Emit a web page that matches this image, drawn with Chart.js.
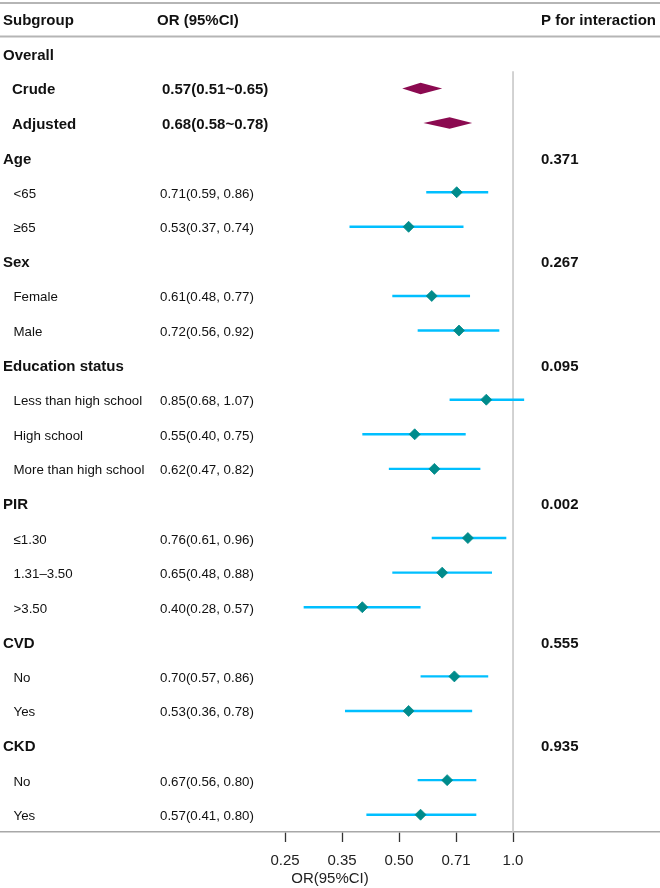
<!DOCTYPE html>
<html>
<head>
<meta charset="utf-8">
<script src="https://cdn.jsdelivr.net/npm/chart.js@4.4.1/dist/chart.umd.min.js"></script>
<style>
  html, body { margin: 0; padding: 0; background: #fff; }
  #wrap { width: 660px; height: 888px; }
</style>
</head>
<body>
<div id="wrap"><canvas id="c" width="660" height="888"></canvas></div>
<script>
// ---------- data ----------
const columnHeaders = ['Subgroup', 'OR (95%CI)', 'P for interaction'];
const rowLabels = ['Overall', 'Crude', 'Adjusted',
  'Age', '<65', '≥65',
  'Sex', 'Female', 'Male',
  'Education status', 'Less than high school', 'High school', 'More than high school',
  'PIR', '≤1.30', '1.31–3.50', '>3.50',
  'CVD', 'No', 'Yes',
  'CKD', 'No', 'Yes'];
const rowKinds = ['group', 'overall', 'overall',
  'group', 'sub', 'sub',
  'group', 'sub', 'sub',
  'group', 'sub', 'sub', 'sub',
  'group', 'sub', 'sub', 'sub',
  'group', 'sub', 'sub',
  'group', 'sub', 'sub'];
const orValues = [null, 0.57, 0.68,
  null, 0.71, 0.53,
  null, 0.61, 0.72,
  null, 0.85, 0.55, 0.62,
  null, 0.76, 0.65, 0.40,
  null, 0.70, 0.53,
  null, 0.67, 0.57];
const lowerCI = [null, 0.51, 0.58,
  null, 0.59, 0.37,
  null, 0.48, 0.56,
  null, 0.68, 0.40, 0.47,
  null, 0.61, 0.48, 0.28,
  null, 0.57, 0.36,
  null, 0.56, 0.41];
const upperCI = [null, 0.65, 0.78,
  null, 0.86, 0.74,
  null, 0.77, 0.92,
  null, 1.07, 0.75, 0.82,
  null, 0.96, 0.88, 0.57,
  null, 0.86, 0.78,
  null, 0.80, 0.80];
const pInteraction = [null, null, null,
  '0.371', null, null,
  '0.267', null, null,
  '0.095', null, null, null,
  '0.002', null, null, null,
  '0.555', null, null,
  '0.935', null, null];
const xTickValues = [0.25, 0.3536, 0.5, 0.7071, 1.0];
const xTickLabels = ['0.25', '0.35', '0.50', '0.71', '1.0'];
const xAxisTitle = 'OR(95%CI)';

// ---------- styles ----------
const FONT = "'Liberation Sans', Arial, Helvetica, sans-serif";
const COL_MARK = '#008B8B';
const COL_CI = '#00BFFF';
const COL_SUMMARY = '#8B0A50';
const TEXT = '#111';
const TEXT_DY = 1.8;

Chart.defaults.font.family = FONT;

const fmt = v => v.toFixed(2);
function ciText(i) {
  if (orValues[i] == null) return '';
  if (rowKinds[i] === 'overall') return fmt(orValues[i]) + '(' + fmt(lowerCI[i]) + '~' + fmt(upperCI[i]) + ')';
  return fmt(orValues[i]) + '(' + fmt(lowerCI[i]) + ', ' + fmt(upperCI[i]) + ')';
}

// datasets
const estimatePoints = [];
const ciDatasets = [];
rowLabels.forEach((lab, i) => {
  if (rowKinds[i] === 'sub') {
    estimatePoints.push({ x: orValues[i], y: i });
    ciDatasets.push({
      type: 'line',
      data: [{ x: lowerCI[i], y: i }, { x: upperCI[i], y: i }],
      borderColor: COL_CI,
      borderWidth: 2.4,
      pointRadius: 0,
      fill: false,
      order: 2
    });
  }
});

const forestPlugin = {
  id: 'forestPlugin',
  beforeDatasetsDraw(chart) {
    const { ctx, chartArea: a, scales: { x, y } } = chart;
    const W = chart.width;
    ctx.save();
    // top border
    ctx.strokeStyle = '#b5b5b5';
    ctx.lineWidth = 2;
    let yy = y.getPixelForValue(-1.5) + 1;
    ctx.beginPath(); ctx.moveTo(0, yy); ctx.lineTo(W, yy); ctx.stroke();
    // header underline
    yy = y.getPixelForValue(-0.5);
    ctx.beginPath(); ctx.moveTo(0, yy); ctx.lineTo(W, yy); ctx.stroke();
    // reference line at OR = 1
    const xr = x.getPixelForValue(1);
    ctx.strokeStyle = '#c4c4c4';
    ctx.lineWidth = 1.5;
    ctx.beginPath(); ctx.moveTo(xr, y.getPixelForValue(0.5)); ctx.lineTo(xr, a.bottom); ctx.stroke();
    // overall summary diamonds
    ctx.fillStyle = COL_SUMMARY;
    rowLabels.forEach((lab, i) => {
      if (rowKinds[i] !== 'overall') return;
      const yc = y.getPixelForValue(i);
      const xl = x.getPixelForValue(lowerCI[i]);
      const xe = x.getPixelForValue(orValues[i]);
      const xh = x.getPixelForValue(upperCI[i]);
      ctx.beginPath();
      ctx.moveTo(xl, yc); ctx.lineTo(xe, yc - 5.8); ctx.lineTo(xh, yc); ctx.lineTo(xe, yc + 5.8);
      ctx.closePath(); ctx.fill();
    });
    ctx.restore();
  },
  afterDraw(chart) {
    const { ctx, scales: { y } } = chart;
    ctx.save();
    ctx.fillStyle = TEXT;
    ctx.textBaseline = 'middle';
    ctx.textAlign = 'left';
    const bold = 'bold 15px ' + FONT;
    const norm = '13.3px ' + FONT;
    // headers
    const yh = y.getPixelForValue(-1) + TEXT_DY;
    ctx.font = bold;
    ctx.fillText(columnHeaders[0], 3, yh);
    ctx.fillText(columnHeaders[1], 157, yh);
    ctx.fillText(columnHeaders[2], 541, yh);
    rowLabels.forEach((lab, i) => {
      const yc = y.getPixelForValue(i) + TEXT_DY;
      const k = rowKinds[i];
      if (k === 'group') {
        ctx.font = bold;
        ctx.fillText(lab, 3, yc);
      } else if (k === 'overall') {
        ctx.font = bold;
        ctx.fillText(lab, 12, yc);
        ctx.fillText(ciText(i), 162, yc);
      } else {
        ctx.font = norm;
        ctx.fillText(lab, 13.5, yc);
        ctx.fillText(ciText(i), 160, yc);
      }
      if (pInteraction[i]) {
        ctx.font = bold;
        ctx.fillText(pInteraction[i], 541, yc);
      }
    });
    ctx.restore();
  }
};

new Chart(document.getElementById('c'), {
  data: {
    datasets: [
      {
        type: 'scatter',
        data: estimatePoints,
        pointStyle: 'rectRot',
        pointRadius: 5.5,
        pointHoverRadius: 5.5,
        backgroundColor: COL_MARK,
        borderColor: COL_MARK,
        borderWidth: 0.8,
        order: 0
      },
      ...ciDatasets
    ]
  },
  options: {
    responsive: false,
    animation: false,
    events: [],
    layout: { autoPadding: false, padding: { top: 2, left: 0, right: 0, bottom: 0 } },
    plugins: { legend: { display: false }, tooltip: { enabled: false } },
    scales: {
      x: {
        type: 'logarithmic',
        position: 'bottom',
        min: 0.04419,
        max: 2.444,
        afterBuildTicks: s => { s.ticks = xTickValues.map(v => ({ value: v })); },
        afterFit: s => { s.height = 56; },
        ticks: {
          autoSkip: false,
          maxRotation: 0,
          padding: 10,
          color: '#222',
          font: { size: 15 },
          callback: (v, idx) => xTickLabels[idx]
        },
        grid: { drawOnChartArea: false, drawTicks: true, tickLength: 10, tickColor: '#333', tickWidth: 1.3 },
        border: { display: true, color: '#a8a8a8', width: 1.5 },
        title: { display: true, text: xAxisTitle, color: '#222', font: { size: 15 }, padding: { top: 0, bottom: 0 } }
      },
      y: {
        type: 'linear',
        display: false,
        reverse: true,
        min: -1.5,
        max: 22.5
      }
    }
  },
  plugins: [forestPlugin]
});
</script>
</body>
</html>
